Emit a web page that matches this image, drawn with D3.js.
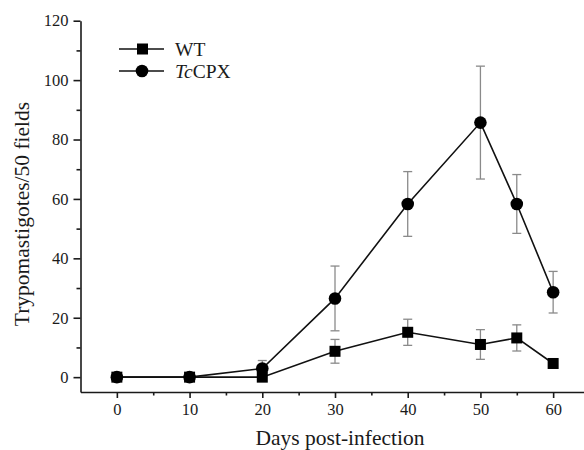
<!DOCTYPE html>
<html lang="en">
<head>
<meta charset="UTF-8" />
<title>Trypomastigotes</title>
<script src="https://cdn.jsdelivr.net/npm/d3@7"></script>
<style>
  body { margin: 0; background: #fff; }
  svg text { font-family: "Liberation Serif", "Times New Roman", serif; fill: #1a1a1a; }
  .axis path, .axis line { stroke: #1a1a1a; stroke-width: 1.6px; }
</style>
</head>
<body>
<svg id="chart" width="584" height="450"></svg>
<script>
// days post-infection
var days = [0, 10, 20, 30, 40, 50, 55, 60];
// WT series and error
var wt = [0, 0, 0, 8.7, 15.1, 11.0, 13.2, 4.6];
var wtErr = [0, 0, 0.5, 4.0, 4.4, 5.0, 4.4, 0];
// TcCPX series and error
var cpx = [0, 0, 2.9, 26.5, 58.3, 85.7, 58.3, 28.6];
var cpxErr = [0, 0, 2.7, 10.9, 10.9, 19.0, 9.9, 7.0];

var xMajor = [0, 10, 20, 30, 40, 50, 60];
var xMinor = [5, 15, 25, 35, 45, 55];
var yMajor = [0, 20, 40, 60, 80, 100, 120];
var yMinor = [10, 30, 50, 70, 90, 110];

var serif = '"Liberation Serif", "Times New Roman", serif';
var svg = d3.select("#chart");

var x = d3.scaleLinear().domain([-5, 65]).range([80.5, 589.5]);
var y = d3.scaleLinear().domain([-5, 120]).range([392, 20.7]);

// axes
var gx = svg.append("g").attr("class", "axis")
  .attr("transform", "translate(0," + y(-5) + ")")
  .call(d3.axisBottom(x).tickValues(xMajor).tickSize(6).tickSizeOuter(0).tickPadding(5));
gx.attr("font-family", serif);
gx.selectAll("text").style("font-size", "16.5px");
svg.append("g").attr("class", "axis")
  .attr("transform", "translate(0," + y(-5) + ")")
  .call(d3.axisBottom(x).tickValues(xMinor).tickSize(3.5).tickSizeOuter(0).tickFormat(""))
  .select("path").remove();

var gy = svg.append("g").attr("class", "axis")
  .attr("transform", "translate(" + x(-5) + ",0)")
  .call(d3.axisLeft(y).tickValues(yMajor).tickSize(7).tickSizeOuter(0).tickPadding(5));
gy.attr("font-family", serif);
gy.selectAll("text").style("font-size", "16.5px");
svg.append("g").attr("class", "axis")
  .attr("transform", "translate(" + x(-5) + ",0)")
  .call(d3.axisLeft(y).tickValues(yMinor).tickSize(4).tickSizeOuter(0).tickFormat(""))
  .select("path").remove();

// axis titles
svg.append("text")
  .attr("x", 340).attr("y", 445)
  .attr("text-anchor", "middle")
  .style("font-size", "21.5px")
  .text("Days post-infection");

svg.append("text")
  .attr("transform", "translate(29,214) rotate(-90)")
  .attr("text-anchor", "middle")
  .style("font-size", "21.5px")
  .text("Trypomastigotes/50 fields");

function series(vals, errs) {
  return days.map(function(d, i) { return { d: d, v: vals[i], e: errs[i] }; });
}
var wtData = series(wt, wtErr);
var cpxData = series(cpx, cpxErr);

// error bars
function drawErr(data) {
  var g = svg.append("g").attr("stroke", "#8a8a8a").attr("stroke-width", 1.3);
  data.filter(function(p) { return p.e > 0; }).forEach(function(p) {
    var cx = x(p.d);
    g.append("line").attr("x1", cx).attr("x2", cx).attr("y1", y(p.v + p.e)).attr("y2", y(p.v - p.e));
    g.append("line").attr("x1", cx - 4.5).attr("x2", cx + 4.5).attr("y1", y(p.v + p.e)).attr("y2", y(p.v + p.e));
    g.append("line").attr("x1", cx - 4.5).attr("x2", cx + 4.5).attr("y1", y(p.v - p.e)).attr("y2", y(p.v - p.e));
  });
}
drawErr(cpxData);
drawErr(wtData);

var line = d3.line()
  .x(function(p) { return x(p.d); })
  .y(function(p) { return y(p.v); });

svg.append("path").datum(wtData).attr("d", line)
  .attr("fill", "none").attr("stroke", "#111").attr("stroke-width", 1.6);
svg.append("path").datum(cpxData).attr("d", line)
  .attr("fill", "none").attr("stroke", "#111").attr("stroke-width", 1.6);

// markers
svg.selectAll(".sq").data(wtData).enter().append("rect")
  .attr("x", function(p) { return x(p.d) - 5.5; })
  .attr("y", function(p) { return y(p.v) - 5.5; })
  .attr("width", 11).attr("height", 11).attr("fill", "#000");

svg.selectAll(".ci").data(cpxData).enter().append("circle")
  .attr("cx", function(p) { return x(p.d); })
  .attr("cy", function(p) { return y(p.v); })
  .attr("r", 6.3).attr("fill", "#000");

// legend
var lg = svg.append("g");
lg.append("line").attr("x1", 119).attr("x2", 164).attr("y1", 49).attr("y2", 49)
  .attr("stroke", "#111").attr("stroke-width", 1.6);
lg.append("rect").attr("x", 137).attr("y", 43.5).attr("width", 11).attr("height", 11).attr("fill", "#000");
lg.append("text").attr("x", 175).attr("y", 56).style("font-size", "19.5px").text("WT");

lg.append("line").attr("x1", 119).attr("x2", 164).attr("y1", 71).attr("y2", 71)
  .attr("stroke", "#111").attr("stroke-width", 1.6);
lg.append("circle").attr("cx", 142).attr("cy", 71).attr("r", 6.3).attr("fill", "#000");
var t2 = lg.append("text").attr("x", 175).attr("y", 78).style("font-size", "19.5px");
t2.append("tspan").style("font-style", "italic").text("Tc");
t2.append("tspan").text("CPX");
</script>
</body>
</html>
